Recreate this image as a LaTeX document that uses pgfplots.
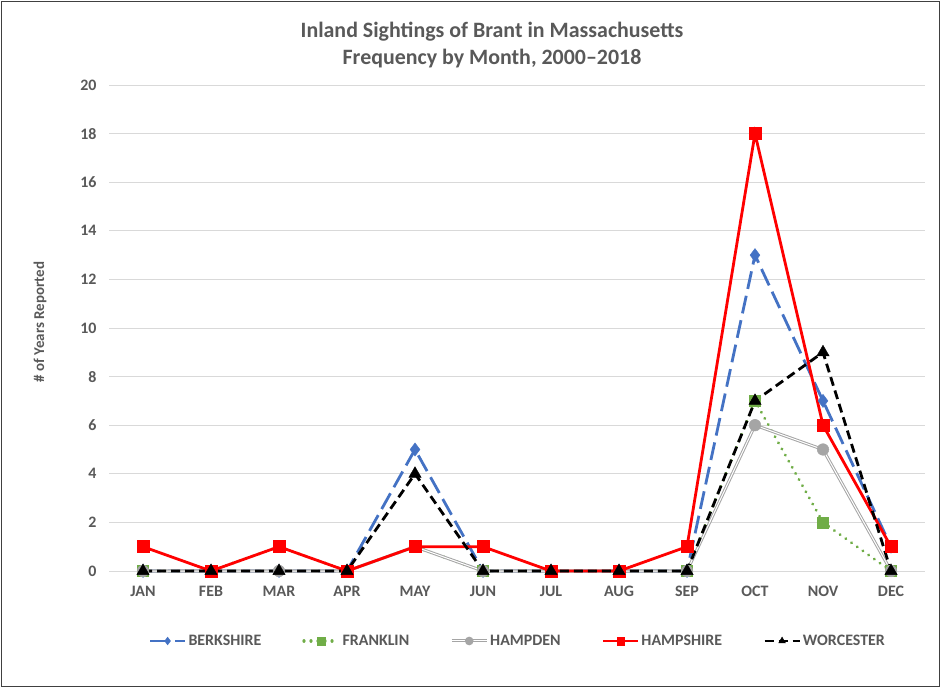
\documentclass[border=0pt]{standalone}
\usepackage{pgfplots}
\pgfplotsset{compat=1.18}
\usepackage{fontspec}
\setmainfont{Carlito}
\definecolor{txt}{HTML}{595959}
\definecolor{gridc}{HTML}{D9D9D9}
\definecolor{cblue}{HTML}{4472C4}
\definecolor{cgreen}{HTML}{70AD47}
\definecolor{cgray}{HTML}{A5A5A5}
\definecolor{cred}{HTML}{FF0000}
\begin{document}
\begin{tikzpicture}
\path (0bp,0bp) rectangle (941bp,688bp);
\draw[draw=black!75, line width=0.8bp, fill=white] (1.5bp,1.5bp) rectangle (939.5bp,686.5bp);
\node[font=\bfseries\fontsize{22}{27}\selectfont, text=txt, align=center] at (492bp,643bp) {Inland Sightings of Brant in Massachusetts\\Frequency by Month, 2000--2018};
\node[font=\bfseries\fontsize{15}{18}\selectfont, text=txt, rotate=90] at (40bp,366bp) {\# of Years Reported};
\begin{axis}[
  at={(109bp,117bp)}, anchor=south west,
  scale only axis, width=816bp, height=486bp,
  xmin=-0.5, xmax=11.5, ymin=0, ymax=20,
  xtick={0,...,11},
  xticklabels={JAN,FEB,MAR,APR,MAY,JUN,JUL,AUG,SEP,OCT,NOV,DEC},
  ytick={0,2,...,20},
  axis line style={draw=none},
  major tick length=0pt,
  ymajorgrids,
  grid style={draw=gridc, line width=0.9bp},
  /pgf/number format/assume math mode=true,
  tick label style={font=\bfseries\fontsize{16}{19}\selectfont, text=txt},
  yticklabel style={xshift=-9bp},
  xticklabel style={anchor=base, yshift=-25bp},
  clip=false,
  legend columns=5,
  legend style={at={(0.501,-0.144)}, anchor=center, draw=none, fill=none,
    font=\bfseries\fontsize{16}{19}\selectfont, text=txt,
    /tikz/every even column/.append style={column sep=39bp}},
  legend cell align=left,
  legend image code/.code={
    \draw[mark repeat=2,mark phase=2,#1,mark size=3.8bp]
      plot coordinates {(0bp,0bp) (17.5bp,0bp) (35bp,0bp)};},
]
\addplot[cblue, line width=2.8bp, dash pattern=on 18bp off 7bp,
  mark=diamond*, mark size=6.5bp, mark options={solid, fill=cblue, draw=cblue, line width=0.5bp}]
  coordinates {(0,0)(1,0)(2,0)(3,0)(4,5)(5,0)(6,0)(7,0)(8,0)(9,13)(10,7)(11,1)};
\addlegendentry{BERKSHIRE}
\addplot[cgreen, line width=3.2bp, dash pattern=on 0.01bp off 7bp, line cap=round,
  mark=square*, mark size=5.5bp, mark options={solid, fill=cgreen, draw=cgreen, line width=0.5bp}]
  coordinates {(0,0)(1,0)(2,1)(3,0)(4,1)(5,0)(6,0)(7,0)(8,0)(9,7)(10,2)(11,0)};
\addlegendentry{FRANKLIN}
\addplot[cgray, line width=3bp, forget plot]
  coordinates {(0,0)(1,0)(2,0)(3,0)(4,1)(5,0)(6,0)(7,0)(8,0)(9,6)(10,5)(11,0)};
\addplot[white, line width=1bp,
  mark=*, mark size=5.8bp, mark options={solid, fill=cgray, draw=cgray, line width=0.5bp},
  legend image code/.code={
    \draw[cgray, line width=3bp] (0bp,0bp) -- (35bp,0bp);
    \draw[white, line width=1bp] (0bp,0bp) -- (35bp,0bp);
    \fill[cgray] (17.5bp,0bp) circle (3.8bp);}]
  coordinates {(0,0)(1,0)(2,0)(3,0)(4,1)(5,0)(6,0)(7,0)(8,0)(9,6)(10,5)(11,0)};
\addlegendentry{HAMPDEN}
\addplot[cred, line width=2.8bp,
  mark=square*, mark size=6bp, mark options={solid, fill=cred, draw=cred, line width=0.5bp}]
  coordinates {(0,1)(1,0)(2,1)(3,0)(4,1)(5,1)(6,0)(7,0)(8,1)(9,18)(10,6)(11,1)};
\addlegendentry{HAMPSHIRE}
\addplot[black, line width=2.8bp, dash pattern=on 9bp off 5bp,
  mark=triangle*, mark size=7bp, mark options={solid, fill=black, draw=black, line width=0.5bp}]
  coordinates {(0,0)(1,0)(2,0)(3,0)(4,4)(5,0)(6,0)(7,0)(8,0)(9,7)(10,9)(11,0)};
\addlegendentry{WORCESTER}
\end{axis}
\end{tikzpicture}
\end{document}
